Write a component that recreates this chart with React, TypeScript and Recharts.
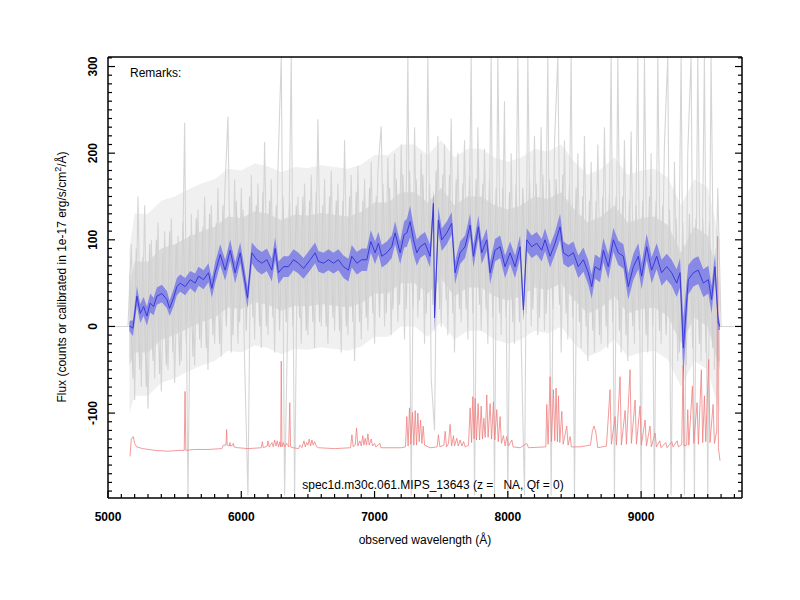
import { ComposedChart, Line, Area, XAxis, YAxis } from "recharts";

const FONT = '"Liberation Sans", Arial, Helvetica, sans-serif';

// axes
const X_DOMAIN = [5000, 9757];
const Y_DOMAIN = [-198, 311];
const X_TICKS = [5000, 6000, 7000, 8000, 9000];
const Y_TICKS = [-100, 0, 100, 200, 300];
const X_MINOR = Array.from({ length: 48 }, (_, i) => 5000 + i * 100);
const Y_MINOR = Array.from({ length: 51 }, (_, i) => -190 + i * 10);

// raw spectrum (grey), sampled every 25 A from 5025 A
const GRAY_START = 5025;
const GRAY_STEP = 25;
const GRAY_FLUX = [
  0, 0, 0, 0, 0,
  0, 95, -85, 150, -70, 140, -95, 100, -60, 120, -75, 110, -50, 125, -65, 105,
  -40, 235, -195, 130, -45, 135, -25, 150, -50, 140, -20, 160, -35, 150, 242, -30,
  170, -20, 160, -40, -195, 175, -15, 165, -25, 213, -10, 170, -30, 180, 311, -195,
  20, 311, -195, 150, -20, 165, -10, 175, -25, 239, 0, 170, -20, 180, -5, 165,
  -30, 215, -10, 175, -40, 185, -15, 170, -5, 190, -20, 180, 231, 0, 195, -10,
  200, 5, 210, -15, 311, -195, 230, 10, 200, -20, 311, -60, -120, 220, 0, 210,
  -10, 240, -30, 200, 5, 215, -15, 311, -195, 230, -5, 205, -20, 311, -195, 311,
  -10, 260, -195, 200, -20, 311, -15, -195, 311, 0, 220, -10, 230, -5, 311, -195,
  210, 311, -30, 215, -15, 311, -195, 200, -25, 220, -40, 190, -30, 210, -20, 230,
  -25, 311, -195, 311, -30, 215, -40, 225, -20, 311, -195, 311, -30, 200, -195, 311,
  -20, 210, 311, -195, 190, -40, 311, -195, 200, 311, -195, 311, -40, 311, -195, 311,
  -50, 160, 0, 0, 0, 0, 0,
];
// second pass of the grey noise, sampled between the first (from 5162.5 A)
const GRAY2_START = 5162.5;
const GRAY2_FLUX = [
  60, -60, 90, -50, 80, -70, 95, -40, 100, -55, 85, -45, 110, -30, 95, -45,
  120, -20, 105, -35, 125, -15, 115, -25, 130, -10, 120, -20, 140, 0, 130, -10,
  145, 5, 135, -5, 150, 10, 140, 0, 155, 0, 145, 10, 140, -5, 150, 5,
  145, 0, 140, 10, 150, -5, 145, 5, 155, 5, 140, 0, 150, 10, 145, -5,
  145, 0, 150, 5, 155, 5, 145, 10, 160, 15, 150, 10, 165, 15, 160, 20,
  170, 25, 175, 20, 180, 20, 170, 30, 175, 15, 165, 25, 180, 20, 175, 30,
  175, 15, 170, 20, 165, 20, 175, 15, 170, 25, 165, 20, 170, 10, 160, 15,
  160, 10, 155, 5, 165, 5, 160, 15, 170, 20, 165, 10, 175, 15, 170, 20,
  170, 25, 175, 15, 165, 10, 160, 5, 150, 0, 145, -5, 145, -10, 150, 0,
  155, 5, 150, -5, 150, -10, 145, 0, 140, -5, 145, -10, 150, 0, 145, -5,
  140, -10, 135, -5, 125, -30, 120, -45, 130, -25, 125, -20, 125, -30, 120, -25,
  90, -40,
];

// envelope of the grey noise
const ENV_WAVE = [
  5160, 5200, 5300, 5400, 5500, 5600, 5700, 5800, 5900, 6000, 6100, 6200, 6300, 6400, 6500, 6600,
  6700, 6800, 6900, 7000, 7100, 7200, 7300, 7400, 7500, 7600, 7700, 7800, 7900, 8000, 8100, 8200,
  8300, 8400, 8500, 8600, 8700, 8800, 8900, 9000, 9100, 9200, 9300, 9400, 9500, 9590,
];
const ENV_INNER_HI = [
  45, 75, 75, 90, 95, 103, 110, 115, 127, 125, 133, 130, 123, 129, 128, 131, 129, 127, 132, 143,
  143, 155, 155, 143, 160, 140, 150, 150, 140, 135, 140, 150, 147, 155, 135, 120, 127, 140, 120, 125,
  127, 117, 85, 115, 105, 50,
];
const ENV_INNER_LO = [
  -45, -30, -30, -15, -10, -2, 5, 10, 22, 20, 28, 25, 18, 24, 23, 26, 24, 22, 27, 38,
  38, 50, 50, 38, 55, 35, 45, 45, 35, 30, 35, 45, 42, 50, 30, 15, 22, 35, 15, 20,
  22, 12, -20, 10, 0, -50,
];
const ENV_OUTER_HI = [
  90, 130, 130, 145, 150, 158, 165, 170, 182, 180, 188, 185, 178, 184, 183, 186, 184, 182, 187, 198,
  198, 210, 210, 198, 215, 195, 205, 205, 195, 190, 195, 205, 202, 210, 190, 175, 182, 195, 175, 180,
  182, 172, 140, 170, 160, 100,
];
const ENV_OUTER_LO = [
  -100, -80, -80, -65, -60, -52, -45, -40, -28, -30, -22, -25, -32, -26, -27, -24, -26, -28, -23, -12,
  -12, 0, 0, -12, 5, -15, -5, -5, -15, -20, -15, -5, -8, 0, -20, -35, -28, -15, -35, -30,
  -28, -38, -70, -40, -50, -100,
];

// smoothed spectrum: [wavelength, flux, error]
const BLUE_POINTS: [number, number, number][] = [
  [5160, 0, 5], [5167, 0, 7], [5187, -2, 9], [5217, 35, 11], [5242, 15, 11], [5267, 23, 11],
  [5292, 12, 11], [5317, 27, 11], [5342, 23, 10], [5367, 35, 10], [5404, 38, 10], [5442, 31, 10],
  [5462, 21, 9], [5492, 33, 10], [5517, 46, 10], [5542, 50, 10], [5579, 46, 10], [5617, 54, 10],
  [5654, 50, 11], [5679, 58, 11], [5717, 54, 11], [5754, 62, 11], [5779, 44, 11], [5804, 62, 12],
  [5842, 83, 12], [5879, 65, 12], [5917, 88, 12], [5954, 62, 12], [5992, 85, 12], [6017, 62, 12],
  [6047, 33, 12], [6079, 85, 12], [6117, 77, 13], [6154, 73, 13], [6192, 77, 13], [6229, 65, 13],
  [6254, 90, 13], [6279, 62, 13], [6317, 69, 12], [6354, 69, 12], [6392, 77, 12], [6429, 73, 12],
  [6467, 67, 12], [6517, 77, 12], [6554, 85, 12], [6579, 75, 12], [6617, 73, 12], [6654, 77, 12],
  [6692, 73, 12], [6729, 77, 12], [6767, 69, 13], [6804, 65, 13], [6829, 81, 13], [6867, 73, 13],
  [6904, 77, 13], [6942, 77, 13], [6972, 98, 13], [7004, 85, 13], [7029, 96, 13], [7054, 81, 13],
  [7092, 85, 13], [7129, 92, 13], [7154, 108, 13], [7192, 85, 13], [7222, 106, 15], [7242, 108, 16],
  [7267, 121, 18], [7292, 100, 17], [7317, 85, 15], [7342, 92, 13], [7379, 96, 13], [7417, 81, 13],
  [7442, 142, 15], [7450, 10, 18], [7479, 123, 15], [7504, 100, 13], [7542, 108, 13], [7579, 119, 13],
  [7604, 62, 13], [7642, 85, 13], [7679, 92, 13], [7717, 117, 13], [7742, 81, 13], [7779, 115, 13],
  [7804, 85, 13], [7842, 100, 13], [7867, 62, 13], [7904, 88, 13], [7942, 92, 13], [7979, 69, 13],
  [8017, 85, 13], [8054, 69, 13], [8092, 92, 13], [8117, 19, 13], [8142, 100, 13], [8179, 92, 13],
  [8217, 96, 13], [8254, 88, 13], [8279, 100, 13], [8317, 81, 13], [8354, 96, 13], [8392, 115, 15],
  [8417, 85, 13], [8454, 81, 13], [8492, 85, 13], [8529, 69, 13], [8567, 77, 14], [8604, 62, 14],
  [8629, 46, 14], [8654, 69, 14], [8692, 65, 14], [8717, 88, 14], [8754, 69, 14], [8792, 100, 14],
  [8829, 85, 14], [8867, 81, 14], [8904, 46, 15], [8942, 69, 15], [8979, 81, 15], [9004, 58, 15],
  [9042, 92, 15], [9079, 65, 15], [9117, 81, 15], [9154, 62, 15], [9192, 69, 15], [9229, 62, 15],
  [9267, 50, 16], [9292, 62, 17], [9317, -25, 35], [9354, 54, 17], [9392, 62, 16], [9429, 65, 16],
  [9467, 50, 16], [9504, 54, 16], [9529, 31, 16], [9554, 69, 15], [9579, 4, 8], [9592, 0, 4],
];

// sky spectrum: [wavelength, flux]
const SKY_POINTS: [number, number][] = [
  [5165, -150], [5175, -130], [5190, -127], [5200, -135], [5215, -139], [5260, -141], [5350, -143],
  [5450, -144], [5540, -143], [5572, -143], [5578, -75], [5584, -143], [5650, -142], [5750, -142],
  [5855, -141], [5865, -137], [5885, -137], [5890, -119], [5895, -137], [5910, -138], [5915, -134],
  [5920, -138], [5935, -137], [5940, -135], [5945, -139], [5975, -140], [6050, -141], [6150, -140],
  [6158, -133], [6165, -140], [6195, -138], [6200, -132], [6210, -139], [6230, -134], [6240, -139],
  [6250, -131], [6260, -138], [6270, -132], [6280, -139], [6290, -133], [6296, -139], [6300, -40],
  [6305, -139], [6315, -134], [6325, -139], [6340, -135], [6356, -139], [6364, -88], [6370, -139],
  [6390, -140], [6430, -141], [6440, -137], [6455, -140], [6470, -132], [6480, -139], [6490, -134],
  [6500, -137], [6510, -130], [6520, -138], [6530, -131], [6540, -137], [6550, -133], [6565, -139],
  [6580, -140], [6700, -141], [6820, -140], [6830, -125], [6840, -139], [6855, -137], [6865, -117],
  [6875, -138], [6890, -132], [6900, -138], [6912, -126], [6920, -137], [6930, -129], [6940, -137],
  [6950, -124], [6960, -137], [6975, -130], [6985, -138], [7000, -135], [7010, -139], [7040, -135],
  [7048, -140], [7200, -140], [7232, -139], [7242, -104], [7252, -138], [7262, -94], [7272, -136],
  [7285, -99], [7295, -137], [7305, -97], [7315, -137], [7325, -100], [7335, -133], [7345, -108],
  [7355, -135], [7365, -115], [7375, -137], [7417, -140], [7470, -139], [7479, -125], [7490, -139],
  [7520, -137], [7530, -121], [7540, -139], [7555, -135], [7567, -113], [7578, -138], [7592, -126],
  [7600, -138], [7617, -129], [7628, -138], [7642, -131], [7655, -138], [7668, -133], [7680, -139],
  [7705, -137], [7717, -94], [7728, -134], [7737, -81], [7747, -130], [7755, -83], [7765, -131],
  [7777, -89], [7788, -131], [7800, -92], [7810, -130], [7820, -106], [7830, -128], [7842, -79],
  [7852, -128], [7867, -89], [7878, -130], [7892, -87], [7902, -131], [7917, -96], [7928, -133],
  [7942, -104], [7952, -135], [7967, -126], [7980, -138], [7992, -127], [8005, -138], [8030, -131],
  [8040, -139], [8092, -140], [8142, -135], [8155, -140], [8285, -139], [8292, -90], [8302, -136],
  [8317, -58], [8327, -133], [8342, -73], [8352, -132], [8362, -71], [8372, -133], [8380, -80],
  [8390, -134], [8405, -98], [8415, -136], [8442, -115], [8452, -137], [8467, -127], [8477, -139],
  [8540, -139], [8620, -137], [8635, -120], [8647, -115], [8660, -122], [8675, -140], [8740, -138],
  [8767, -73], [8777, -136], [8805, -104], [8815, -137], [8842, -58], [8852, -137], [8880, -97],
  [8890, -136], [8917, -50], [8927, -135], [8955, -85], [8965, -136], [8992, -92], [9002, -137],
  [9030, -108], [9040, -138], [9067, -115], [9077, -139], [9105, -123], [9115, -139], [9140, -132],
  [9150, -140], [9185, -134], [9195, -140], [9230, -133], [9240, -139], [9270, -132], [9280, -139],
  [9305, -136], [9315, -45], [9322, -138], [9342, -137], [9350, -96], [9358, -137], [9385, -69],
  [9395, -135], [9420, -88], [9430, -136], [9452, -50], [9462, -134], [9475, -80], [9485, -133],
  [9507, -38], [9517, -134], [9540, -90], [9550, -135], [9568, -120], [9574, 104], [9580, -140],
  [9592, -155],
];

const grayData = GRAY_FLUX.map((f, i) => ({ wave: GRAY_START + i * GRAY_STEP, flux: f }));
const gray2Data = GRAY2_FLUX.map((f, i) => ({ wave: GRAY2_START + i * GRAY_STEP, flux: f }));
const envData = ENV_WAVE.map((w, i) => ({
  wave: w,
  outer: [ENV_OUTER_LO[i], ENV_OUTER_HI[i]],
  inner: [ENV_INNER_LO[i], ENV_INNER_HI[i]],
}));
const blueData = BLUE_POINTS.map(([w, f, e]) => ({ wave: w, flux: f, band: [f - e, f + e] }));
const skyData = SKY_POINTS.map(([w, f]) => ({ wave: w, flux: f }));

const AXIS_LINE = { stroke: "#000", strokeWidth: 1.5 };
const MAJOR_LEN = 7;
const MINOR_LEN = 4;

// inward tick marks (R style box); label only on the bottom and left sides
const BoxTick = ({ x, y, payload, side }: any) => {
  const v = payload.value;
  const isMajor = side === "bottom" || side === "top" ? X_TICKS.includes(v) : Y_TICKS.includes(v);
  const len = isMajor ? MAJOR_LEN : MINOR_LEN;
  const line =
    side === "bottom" ? { x1: x, y1: y, x2: x, y2: y - len }
    : side === "top" ? { x1: x, y1: y, x2: x, y2: y + len }
    : side === "left" ? { x1: x, y1: y, x2: x + len, y2: y }
    : { x1: x, y1: y, x2: x - len, y2: y };
  return (
    <g>
      <line {...line} stroke="#000" strokeWidth={1.2} />
      {isMajor && side === "bottom" && (
        <text x={x} y={y + 19} textAnchor="middle" dominantBaseline="central" fontSize={12}
          fontWeight="bold" fontFamily={FONT} fill="#000">
          {v}
        </text>
      )}
      {isMajor && side === "left" && (
        <text x={x - 15} y={y} transform={`rotate(-90 ${x - 15} ${y})`} textAnchor="middle"
          dominantBaseline="central" fontSize={12} fontWeight="bold" fontFamily={FONT} fill="#000">
          {v}
        </text>
      )}
    </g>
  );
};

// all the lower layers are Areas so that they stack in the order written here
export default function App() {
  return (
    <div style={{ position: "absolute", left: 0, top: 0, width: 800, height: 600, background: "#fff", fontFamily: FONT }}>
      <ComposedChart width={800} height={600} margin={{ top: 56, right: 57, bottom: 101, left: 107 }}>
        <XAxis xAxisId="x" type="number" dataKey="wave" domain={X_DOMAIN} allowDataOverflow ticks={X_MINOR}
          interval={0} height={1} tickSize={0} tickMargin={0} axisLine={AXIS_LINE} tickLine={false}
          tick={<BoxTick side="bottom" />} />
        <XAxis xAxisId="xt" orientation="top" type="number" domain={X_DOMAIN} allowDataOverflow ticks={X_MINOR}
          interval={0} height={1} tickSize={0} tickMargin={0} axisLine={AXIS_LINE} tickLine={false}
          tick={<BoxTick side="top" />} />
        <YAxis yAxisId="y" type="number" domain={Y_DOMAIN} allowDataOverflow ticks={Y_MINOR} interval={0}
          width={1} tickSize={0} tickMargin={0} axisLine={AXIS_LINE} tickLine={false}
          tick={<BoxTick side="left" />} />
        <YAxis yAxisId="yr" orientation="right" type="number" domain={Y_DOMAIN} allowDataOverflow ticks={Y_MINOR}
          interval={0} width={1} tickSize={0} tickMargin={0} axisLine={AXIS_LINE} tickLine={false}
          tick={<BoxTick side="right" />} />

        <Area data={envData} xAxisId="x" yAxisId="y" dataKey="outer" type="linear" stroke="none"
          fill="#f0f0f0" fillOpacity={1} isAnimationActive={false} />
        <Area data={envData} xAxisId="x" yAxisId="y" dataKey="inner" type="linear" stroke="none"
          fill="#dadada" fillOpacity={1} isAnimationActive={false} />
        <Area data={gray2Data} xAxisId="x" yAxisId="y" dataKey="flux" type="linear" stroke="#cfcfcf"
          strokeWidth={1.1} fill="none" fillOpacity={0} dot={false} activeDot={false} isAnimationActive={false} />
        <Area data={grayData} xAxisId="x" yAxisId="y" dataKey="flux" type="linear" stroke="#d5d5d5"
          strokeWidth={1.1} fill="none" fillOpacity={0} dot={false} activeDot={false} isAnimationActive={false} />
        <Area data={skyData} xAxisId="x" yAxisId="y" dataKey="flux" type="linear" stroke="#f08080"
          strokeWidth={0.8} fill="none" fillOpacity={0} dot={false} activeDot={false} isAnimationActive={false} />
        <Area data={blueData} xAxisId="x" yAxisId="y" dataKey="band" type="linear" stroke="none"
          fill="#7a7ae8" fillOpacity={0.85} isAnimationActive={false} />
        <Line data={blueData} xAxisId="x" yAxisId="y" dataKey="flux" type="linear" stroke="#3a3ad8"
          strokeWidth={1} dot={false} isAnimationActive={false} />
      </ComposedChart>

      <div style={{ position: "absolute", left: 130, top: 66, fontSize: 12, lineHeight: "14px", color: "#000" }}>
        Remarks:
      </div>
      <div style={{ position: "absolute", left: 433, top: 478, transform: "translateX(-50%)", fontSize: 12,
        lineHeight: "14px", whiteSpace: "pre", color: "#000" }}>
        {"spec1d.m30c.061.MIPS_13643 (z =   NA, Qf = 0)"}
      </div>
      <div style={{ position: "absolute", left: 425, top: 533, transform: "translateX(-50%)", fontSize: 12,
        lineHeight: "14px", whiteSpace: "pre", color: "#000" }}>
        observed wavelength (Å)
      </div>
      <div style={{ position: "absolute", left: 62, top: 277, transform: "translate(-50%, -50%) rotate(-90deg)",
        fontSize: 12, lineHeight: "14px", whiteSpace: "nowrap", color: "#000" }}>
        Flux (counts or calibrated in 1e-17 erg/s/cm<sup style={{ fontSize: 9, verticalAlign: "5px", lineHeight: 0 }}>2</sup>/Å)
      </div>
    </div>
  );
}
